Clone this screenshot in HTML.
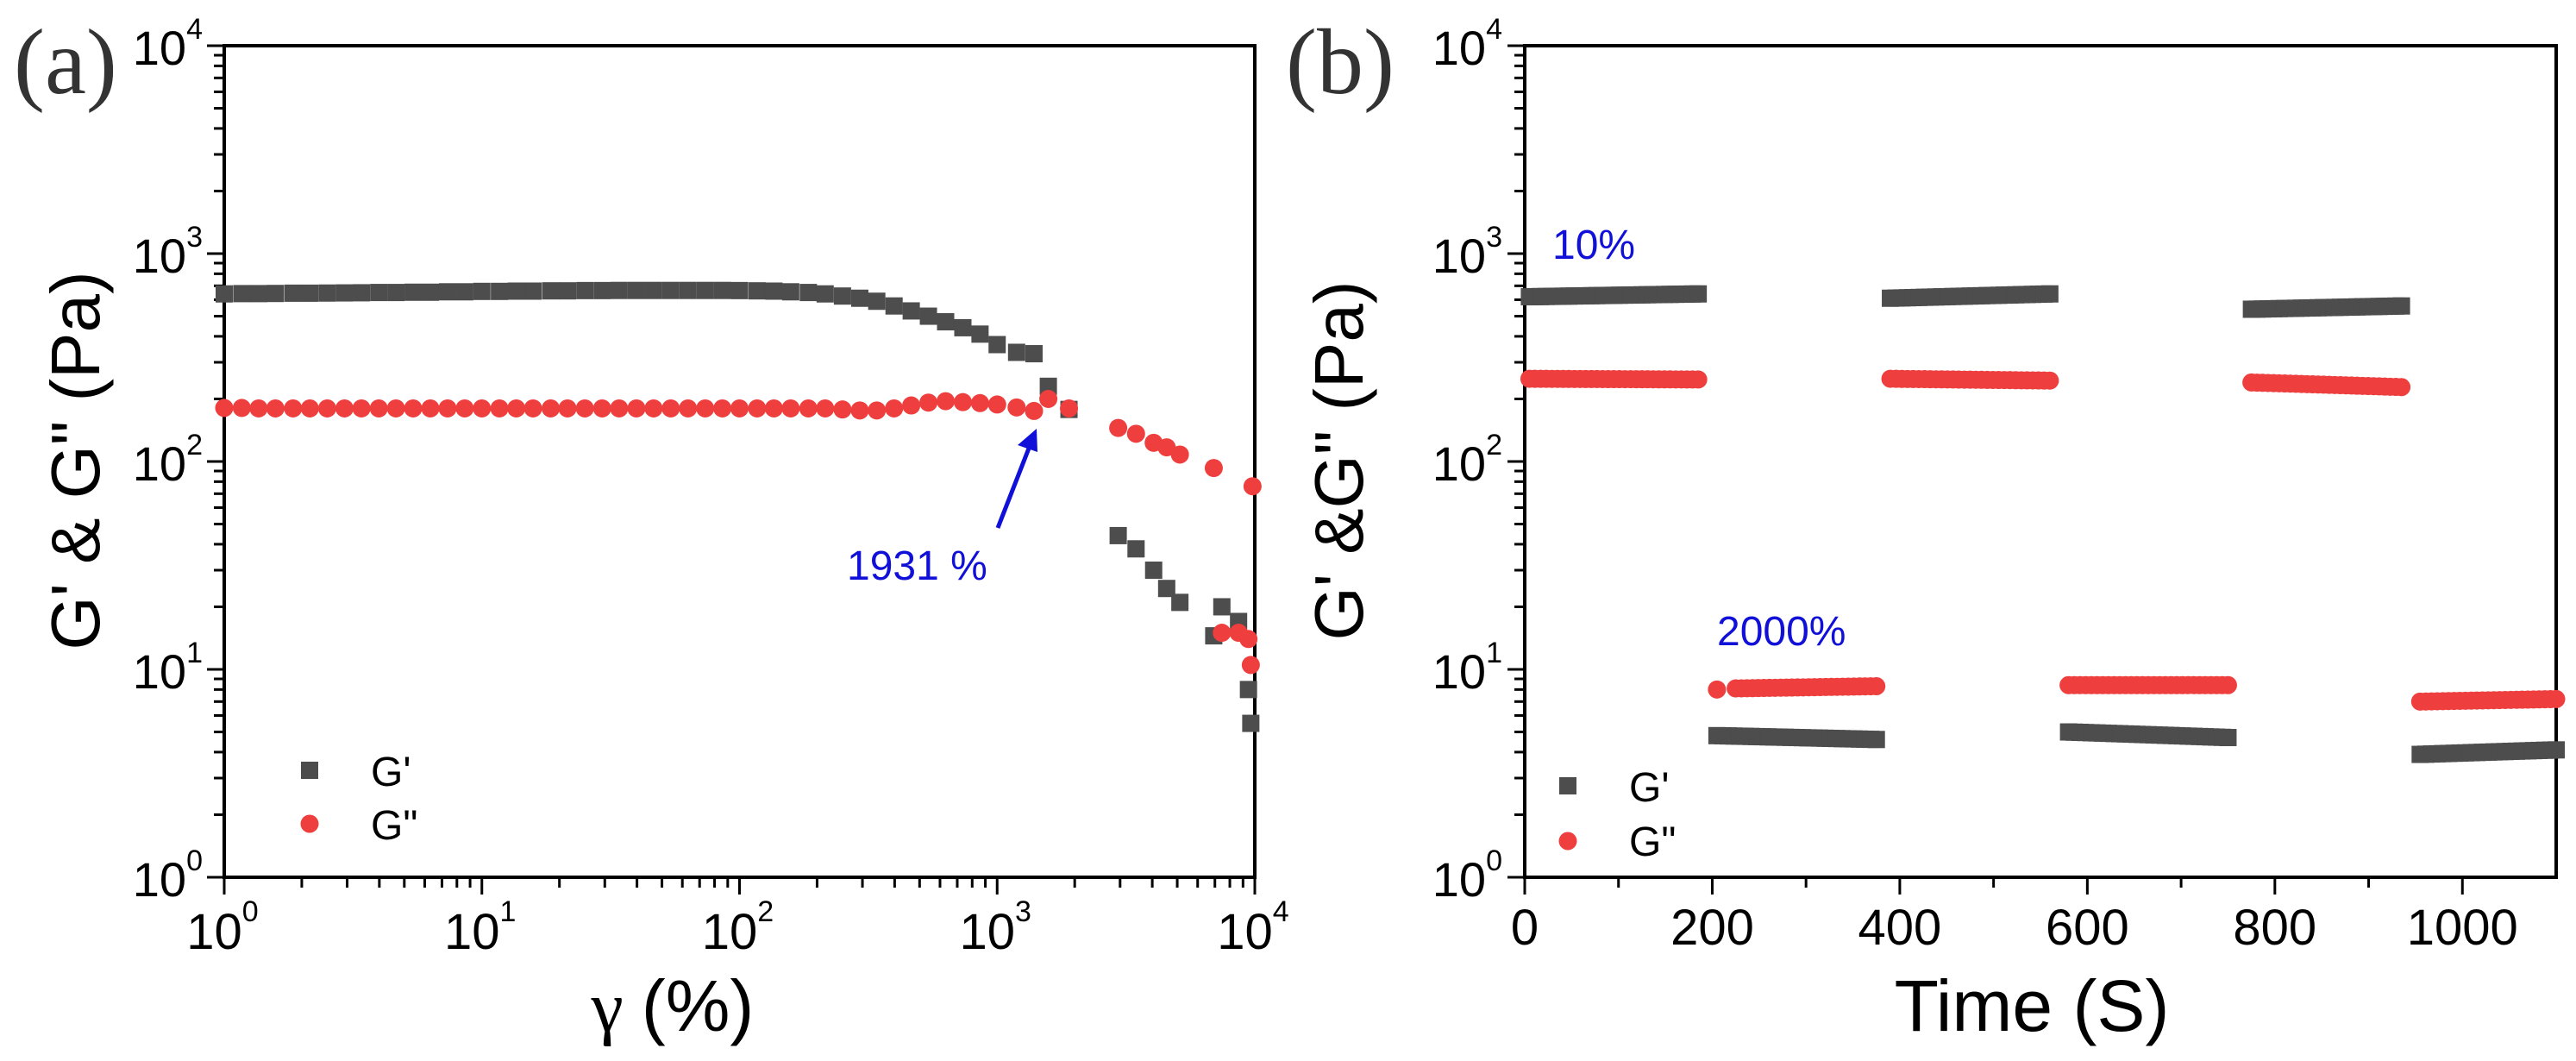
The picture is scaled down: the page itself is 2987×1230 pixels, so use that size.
<!DOCTYPE html>
<html><head><meta charset="utf-8"><style>
html,body{margin:0;padding:0;background:#fff;}
svg{display:block;font-family:"Liberation Sans",Arial,sans-serif;}
</style></head><body>
<svg id="fig" width="2987" height="1230" viewBox="0 0 2987 1230" xmlns="http://www.w3.org/2000/svg">
<g id="pa"></g>
<g id="pb"></g>
</svg>
<script>
// ---- Panel (a) data: strain sweep ----
const aStrain = [1,1.17,1.36,1.58,1.85,2.15,2.51,2.93,3.41,3.98,4.64,5.41,6.31,7.36,8.58,10,11.7,13.6,15.8,18.5,21.5,25.1,29.3,34.1,39.8,46.4,54.1,63.1,73.6,85.8,100,117,136,158,185,215,251,293,341,398,464,541,631,736,858,1000,1190,1390,1580,1900,2950,3460,4050,4550,5120,6930,7450,8650,9450,9650];
const aGp = [640,640,642,642,643,645,645,646,647,648,650,650,652,652,655,655,658,658,660,660,662,662,664,664,665,665,665,665,665,665,665,664,662,660,655,650,640,625,610,590,560,530,500,470,440,410,365,335,330,230,178,44,38,30,24.5,21,14.5,20,17,8,5.5].slice(1);
const aGpp = [181,181,181,180,180,180,180,180,180,180,180,180,180,180,180,180,180,180,180,180,180,180,180,180,180,180,180,180,180,180,180,180,180,180,180,180,180,178,176,176,180,186,192,195,193,191,188,182,175,200,180,145,136,123,117,108,93,15,15,14,10.5].slice(1);
const aGppExtra = [[9800,76]];
const aYTicks = ["10","10","10","10","10"];
const aYExp = ["0","1","2","3","4"];
const aXExp = ["0","1","2","3","4"];

// ---- Panel (b) data: time sweep ----
const bSegT0 = [5,390,775,225,580,955];
const bSegT1 = [185,560,935,375,750,1100];
const bGpStart = [620,610,540,4.8,5.0,3.9];
const bGpEnd = [640,640,560,4.6,4.7,4.1];
const bGppStart = [250,250,240,8.1,8.4,7.0];
const bGppEnd = [248,245,228,8.3,8.4,7.2];
const bGppIsolated = [[205,8.0]];
const bXTicks = [0,200,400,600,800,1000];

const NS="http://www.w3.org/2000/svg";
function mk(parent,tag,attrs,name,text){
  const e=document.createElementNS(NS,tag);
  for(const k in attrs) e.setAttribute(k,attrs[k]);
  
  
  if(text!==undefined) e.textContent=text;
  parent.appendChild(e); return e;
}
const GREY="#4d4d4d", RED="#ef3e3e", BLUE="#1010d8";
const TOP=53, BOT=1017;
function yLog(v){ return BOT-(Math.log10(v)-0)*(BOT-TOP)/4; }

const aL=260,aR=1455;
function xA(v){ return aL+Math.log10(v)*(aR-aL)/4; }
const pa=document.getElementById('pa');
function logYAxis(g,L,labelX){
  for(let d=0;d<4;d++){
    for(let m=2;m<10;m++){
      const y=yLog(m*Math.pow(10,d));
      mk(g,'line',{x1:L-12,x2:L,y1:y,y2:y,stroke:'#000','stroke-width':3},'y-minor-tick');
    }
  }
  for(let d=0;d<=4;d++){
    const y=yLog(Math.pow(10,d));
    mk(g,'line',{x1:L-20,x2:L,y1:y,y2:y,stroke:'#000','stroke-width':3},'y-major-tick');
    const t=mk(g,'text',{x:labelX,y:y+22,'font-size':56,'text-anchor':'end',fill:'#000'},'y-tick-label');
    t.textContent=aYTicks[d];
    const s=mk(g,'tspan',{dy:-30,'font-size':34},'y-tick-exponent',aYExp[d]);
    t.appendChild(s);
  }
}
function frame(g,L,R){
  mk(g,'rect',{x:L,y:TOP,width:R-L,height:BOT-TOP,fill:'none',stroke:'#000','stroke-width':4},'plot-frame');
}
frame(pa,aL,aR);
logYAxis(pa,aL,235);
for(let d=0;d<4;d++){
  for(let m=2;m<10;m++){
    const x=xA(m*Math.pow(10,d));
    mk(pa,'line',{x1:x,x2:x,y1:BOT,y2:BOT+12,stroke:'#000','stroke-width':3},'x-minor-tick');
  }
}
for(let d=0;d<=4;d++){
  const x=xA(Math.pow(10,d));
  mk(pa,'line',{x1:x,x2:x,y1:BOT,y2:BOT+20,stroke:'#000','stroke-width':3},'x-major-tick');
  const t=mk(pa,'text',{x:x-2,y:1100,'font-size':58,'text-anchor':'middle',fill:'#000'},'x-tick-label');
  t.textContent='10';
  t.appendChild(mk(pa,'tspan',{dy:-32,'font-size':34},'x-tick-exponent',aXExp[d]));
}
aStrain.forEach((s,i)=>{
  const v=aGp[i]; if(v===undefined) return;
  mk(pa,'rect',{x:xA(s)-10,y:yLog(v)-10,width:20,height:20,fill:GREY},'gprime-point');
});
aStrain.forEach((s,i)=>{
  const v=aGpp[i]; if(v===undefined) return;
  mk(pa,'circle',{cx:xA(s),cy:yLog(v),r:10.5,fill:RED},'gdoubleprime-point');
});
aGppExtra.forEach(p=>mk(pa,'circle',{cx:xA(p[0]),cy:yLog(p[1]),r:10.5,fill:RED},'gdoubleprime-point'));
mk(pa,'line',{x1:1157,y1:612,x2:1196,y2:512,stroke:BLUE,'stroke-width':5},'annotation-arrow');
mk(pa,'polygon',{points:'1202,497 1180,516 1203,524',fill:BLUE},'annotation-arrowhead');
mk(pa,'text',{x:982,y:672,'font-size':48,fill:BLUE},'crossover-label','1931 %');
mk(pa,'rect',{x:349,y:883,width:20,height:20,fill:GREY},'legend-gprime-marker');
mk(pa,'text',{x:430,y:911,'font-size':48,fill:'#000'},'legend-gprime-label',"G'");
mk(pa,'circle',{cx:359,cy:955,r:10.5,fill:RED},'legend-gdoubleprime-marker');
mk(pa,'text',{x:430,y:973,'font-size':48,fill:'#000'},'legend-gdoubleprime-label','G"');
mk(pa,'text',{x:16,y:108,'font-size':108,fill:'#333','font-family':'Liberation Serif, serif'},'panel-label-a','(a)');
mk(pa,'text',{x:0,y:0,'font-size':80,fill:'#000','text-anchor':'middle',transform:'translate(115,534) rotate(-90)'},'y-axis-title-a',"G' & G\" (Pa)");
const xt=mk(pa,'text',{x:780,y:1195,'font-size':84,fill:'#000','text-anchor':'middle'},'x-axis-title-a');
xt.appendChild(mk(pa,'tspan',{'font-family':'Liberation Serif, serif'},'gamma-symbol','γ '));
xt.appendChild(mk(pa,'tspan',{},'x-axis-unit','(%)'));

const bL=1768,bR=2964;
function xB(t){ return bL+t*(bR-bL)/1100; }
const pb=document.getElementById('pb');
frame(pb,bL,bR);
logYAxis(pb,bL,1742);
for(let t=100;t<1100;t+=200){
  const x=xB(t);
  mk(pb,'line',{x1:x,x2:x,y1:BOT,y2:BOT+12,stroke:'#000','stroke-width':3},'x-minor-tick');
}
bXTicks.forEach(t=>{
  const x=xB(t);
  mk(pb,'line',{x1:x,x2:x,y1:BOT,y2:BOT+20,stroke:'#000','stroke-width':3},'x-major-tick');
  mk(pb,'text',{x:x,y:1095,'font-size':58,'text-anchor':'middle',fill:'#000'},'x-tick-label',String(t));
});
bSegT0.forEach((t0,i)=>{
  const t1=bSegT1[i];
  const n=Math.round((t1-t0)/6);
  const g0=(i===3)?205:t0;
  const ng=Math.round((t1-g0)/6);
  for(let k=0;k<=ng;k++){
    const f=k/ng, t=g0+(t1-g0)*f;
    const gp=bGpStart[i]+(bGpEnd[i]-bGpStart[i])*f;
    mk(pb,'rect',{x:xB(t)-10,y:yLog(gp)-10,width:20,height:20,fill:GREY},'gprime-point');
  }
  for(let k=0;k<=n;k++){
    const f=k/n, t=t0+(t1-t0)*f;
    const gpp=bGppStart[i]+(bGppEnd[i]-bGppStart[i])*f;
    mk(pb,'circle',{cx:xB(t),cy:yLog(gpp),r:10.5,fill:RED},'gdoubleprime-point');
  }
});
bGppIsolated.forEach(p=>mk(pb,'circle',{cx:xB(p[0]),cy:yLog(p[1]),r:10.5,fill:RED},'gdoubleprime-point'));
mk(pb,'text',{x:1800,y:300,'font-size':48,fill:BLUE},'low-strain-label','10%');
mk(pb,'text',{x:1991,y:748,'font-size':48,fill:BLUE},'high-strain-label','2000%');
mk(pb,'rect',{x:1808,y:901,width:20,height:20,fill:GREY},'legend-gprime-marker');
mk(pb,'text',{x:1889,y:929,'font-size':48,fill:'#000'},'legend-gprime-label',"G'");
mk(pb,'circle',{cx:1818,cy:975,r:10.5,fill:RED},'legend-gdoubleprime-marker');
mk(pb,'text',{x:1889,y:992,'font-size':48,fill:'#000'},'legend-gdoubleprime-label','G"');
mk(pb,'text',{x:1491,y:108,'font-size':108,fill:'#333','font-family':'Liberation Serif, serif'},'panel-label-b','(b)');
mk(pb,'text',{x:0,y:0,'font-size':80,fill:'#000','text-anchor':'middle',transform:'translate(1580,534) rotate(-90)'},'y-axis-title-b',"G' &G\" (Pa)");
mk(pb,'text',{x:2356,y:1195,'font-size':84,fill:'#000','text-anchor':'middle'},'x-axis-title-b','Time (S)');
</script>
</body></html>
